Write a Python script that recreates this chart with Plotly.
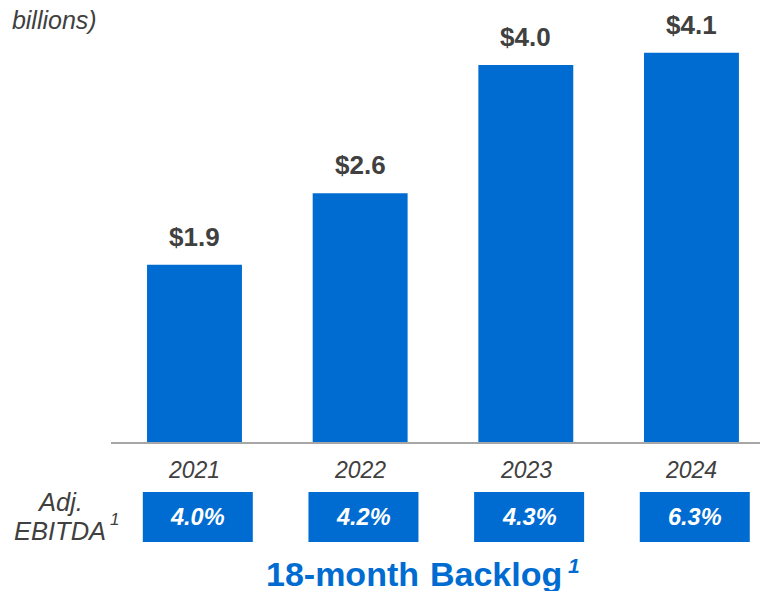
import plotly.graph_objects as go

years = ["2021", "2022", "2023", "2024"]
backlog = [1.88, 2.64, 4.00, 4.13]
backlog_labels = ["$1.9", "$2.6", "$4.0", "$4.1"]
ebitda_margin = ["4.0%", "4.2%", "4.3%", "6.3%"]

BLUE = "#006CD1"
GREY_TXT = "#404040"
FONT = "Liberation Sans, Arial, sans-serif"

OFF = 8  # page body margin
W, H = 768 - OFF, 591 - OFF
L = 111 - OFF
AXIS_Y = 442 - OFF
PW, PH = W - L, AXIS_Y
B = H - PH


def px(xp):
    return (xp - OFF - L) / PW


def py(yp):
    return (PH - (yp - OFF)) / PH


xs = list(range(len(years)))
fig = go.Figure()
fig.add_trace(go.Bar(x=xs, y=backlog, width=0.573, marker=dict(color=BLUE, line=dict(width=0)),
                     hoverinfo="skip"))

ann = []
shapes = []
for i, (v, lab, yr, m) in enumerate(zip(backlog, backlog_labels, years, ebitda_margin)):
    ann.append(dict(x=i, y=v, xref="x", yref="y", text=lab, showarrow=False, yanchor="middle",
                    yshift=28, font=dict(family=FONT, size=26, color=GREY_TXT, weight="bold")))
    ann.append(dict(x=i, y=py(470), xref="x", yref="paper", text=yr, showarrow=False,
                    yanchor="middle", font=dict(family=FONT, size=23, color=GREY_TXT, style="italic")))
    shapes.append(dict(type="rect", xref="x", yref="paper", x0=i + 0.02 - 0.332, x1=i + 0.02 + 0.332,
                       y0=py(542), y1=py(492), fillcolor=BLUE, line=dict(width=0), layer="above"))
    ann.append(dict(x=i + 0.02, y=py(517), xref="x", yref="paper", text=m, showarrow=False,
                    yanchor="middle", font=dict(family=FONT, size=23.5, color="white", weight="bold",
                                                style="italic")))

ann += [
    dict(x=px(99), y=py(20), xref="paper", yref="paper", text="(US$ billions)", showarrow=False,
         xanchor="right", yanchor="middle", font=dict(family=FONT, size=25, color=GREY_TXT, style="italic")),
    dict(x=px(60), y=py(502), xref="paper", yref="paper", text="Adj.", showarrow=False,
         xanchor="center", yanchor="middle", font=dict(family=FONT, size=25.5, color=GREY_TXT, style="italic")),
    dict(x=px(108), y=py(531), xref="paper", yref="paper", text="EBITDA", showarrow=False,
         xanchor="right", yanchor="middle", font=dict(family=FONT, size=25.5, color=GREY_TXT, style="italic")),
    dict(x=px(114), y=py(519), xref="paper", yref="paper", text="1", showarrow=False,
         xanchor="center", yanchor="middle", font=dict(family=FONT, size=17, color=GREY_TXT, style="italic")),
    dict(x=px(264), y=py(574), xref="paper", yref="paper", text="18-month", showarrow=False,
         xanchor="left", yanchor="middle", font=dict(family=FONT, size=34, color=BLUE, weight="bold")),
    dict(x=px(564), y=py(574), xref="paper", yref="paper", text="Backlog", showarrow=False,
         xanchor="right", yanchor="middle", font=dict(family=FONT, size=34, color=BLUE, weight="bold")),
    dict(x=px(574), y=py(565), xref="paper", yref="paper", text="1", showarrow=False,
         xanchor="center", yanchor="middle", font=dict(family=FONT, size=21, color=BLUE, weight="bold",
                                                      style="italic")),
]

fig.update_layout(
    width=W, height=H,
    margin=dict(l=L, r=0, t=0, b=B, pad=0),
    paper_bgcolor="white", plot_bgcolor="white",
    showlegend=False,
    xaxis=dict(range=[-0.504, 3.462], showgrid=False, zeroline=False, showticklabels=False,
               showline=True, linecolor="#A6A6A6", linewidth=2, ticks="", fixedrange=True),
    yaxis=dict(range=[0, 434 / 94.25], visible=False, fixedrange=True),
    annotations=ann,
    shapes=shapes,
)

fig.write_html("out.html")
